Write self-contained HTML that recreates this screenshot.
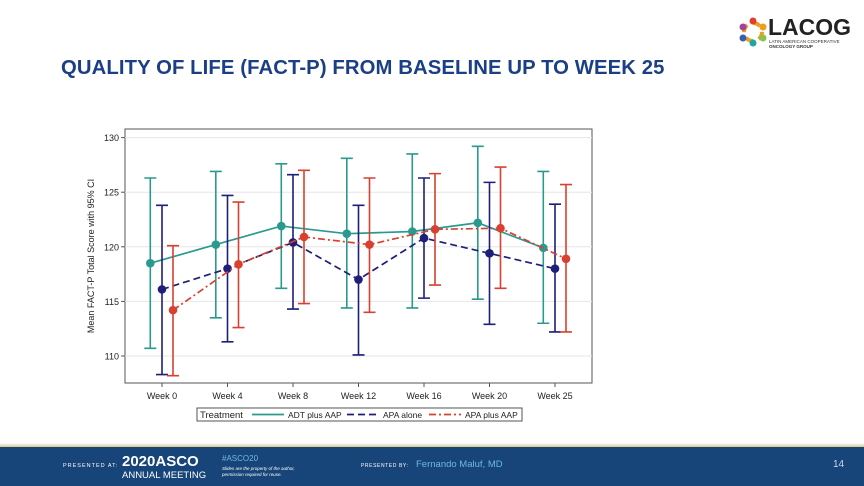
<!DOCTYPE html>
<html><head><meta charset="utf-8"><style>
body{margin:0;width:864px;height:486px;overflow:hidden;background:#fff;font-family:"Liberation Sans",sans-serif;position:relative}
.title{position:absolute;left:61px;top:57px;font-size:20.3px;font-weight:bold;color:#1b3f86;letter-spacing:0.1px}
.footer{position:absolute;left:0;top:447px;width:864px;height:39px;background:#17457a;color:#fff}
.gold{position:absolute;left:0;top:443px;width:864px;height:4px;background:linear-gradient(#fff,#d8c98a)}
</style></head><body>
<div class="title">QUALITY OF LIFE (FACT-P) FROM BASELINE UP TO WEEK 25</div>
<div style="position:absolute;left:738px;top:14px;width:120px;height:36px">
<svg width="30" height="30" style="position:absolute;left:0;top:3px"><g fill="none" stroke-width="4"><circle cx="15" cy="15" r="9" stroke="#e9a21f" stroke-dasharray="8 6"/></g><circle cx="15" cy="4" r="3.5" fill="#e53d2f"/><circle cx="25" cy="10" r="3.5" fill="#f29b1e"/><circle cx="25" cy="21" r="3.5" fill="#8bc34a"/><circle cx="15" cy="26" r="3.5" fill="#1ea7a0"/><circle cx="5" cy="21" r="3.5" fill="#3b5db0"/><circle cx="5" cy="10" r="3.5" fill="#a43f9b"/></svg>
<div style="position:absolute;left:30px;top:0;font-size:23px;font-weight:bold;color:#222">LACOG</div>
<div style="position:absolute;left:31px;top:25px;font-size:4.5px;color:#333;line-height:5px">LATIN AMERICAN COOPERATIVE<br><b>ONCOLOGY GROUP</b></div>
</div>
<svg id="chart" width="864" height="486" style="position:absolute;left:0;top:0"></svg>
<div class="gold"></div>
<div class="footer">
<div style="position:absolute;left:63px;top:16px;font-size:5.5px;letter-spacing:1px">PRESENTED AT:</div>
<div style="position:absolute;left:122px;top:6px;font-size:15px;font-weight:bold">2020ASCO</div>
<div style="position:absolute;left:122px;top:23px;font-size:9.5px">ANNUAL MEETING</div>
<div style="position:absolute;left:222px;top:7px;font-size:8px;color:#6fb8e6">#ASCO20</div>
<div style="position:absolute;left:222px;top:19px;font-size:4.5px;font-style:italic;line-height:6px">Slides are the property of the author,<br>permission required for reuse.</div>
<div style="position:absolute;left:361px;top:16px;font-size:5px;letter-spacing:0.6px">PRESENTED BY:</div>
<div style="position:absolute;left:416px;top:12px;font-size:9.5px;color:#6fb8e6">Fernando Maluf, MD</div>
<div style="position:absolute;left:833px;top:12px;font-size:10px;color:#cfd8e6">14</div>
</div>
<script>
const weeks=["Week 0","Week 4","Week 8","Week 12","Week 16","Week 20","Week 25"];
const yTicks=[110,115,120,125,130];
const adtMean=[118.5,120.2,121.9,121.2,121.4,122.2,119.9];
const adtLow=[110.7,113.5,116.2,114.4,114.4,115.2,113.0];
const adtHigh=[126.3,126.9,127.6,128.1,128.5,129.2,126.9];
const apaMean=[116.1,118.0,120.4,117.0,120.8,119.4,118.0];
const apaLow=[108.3,111.3,114.3,110.1,115.3,112.9,112.2];
const apaHigh=[123.8,124.7,126.6,123.8,126.3,125.9,123.9];
const aapMean=[114.2,118.4,120.9,120.2,121.6,121.7,118.9];
const aapLow=[108.2,112.6,114.8,114.0,116.5,116.2,112.2];
const aapHigh=[120.1,124.1,127.0,126.3,126.7,127.3,125.7];
const svg=document.getElementById('chart');const NS="http://www.w3.org/2000/svg";
function el(t,a,p){const e=document.createElementNS(NS,t);for(const k in a)e.setAttribute(k,a[k]);(p||svg).appendChild(e);return e;}
const L=125,R=592,T=129,B=383;
const y=v=>356-(v-110)*10.92;
const x=i=>162+i*65.5;
const bg=el('rect',{x:L,y:T,width:R-L,height:B-T,fill:'#fff',stroke:'#555','stroke-width':1});


yTicks.forEach(v=>{const g=el('line',{x1:L,x2:R,y1:y(v),y2:y(v),stroke:'#e6e6e6','stroke-width':1});


el('line',{x1:L-4,x2:L,y1:y(v),y2:y(v),stroke:'#555'});
const t=el('text',{x:L-6,y:y(v)+3.5,'text-anchor':'end','font-size':9,fill:'#222'});t.textContent=v;

});
weeks.forEach((w,i)=>{el('line',{x1:x(i),x2:x(i),y1:B,y2:B+4,stroke:'#555'});
const t=el('text',{x:x(i),y:B+16,'text-anchor':'middle','font-size':9,fill:'#222'});t.textContent=w;

});
const yt=el('text',{transform:'translate(94,256) rotate(-90)','text-anchor':'middle','font-size':9,fill:'#222'});yt.textContent='Mean FACT-P Total Score with 95% CI';


const series=[
{name:'adt',m:adtMean,lo:adtLow,hi:adtHigh,c:'#2a9a8f',off:-11.7,dash:''},
{name:'apa',m:apaMean,lo:apaLow,hi:apaHigh,c:'#1d1f78',off:0,dash:'7 4'},
{name:'aap',m:aapMean,lo:aapLow,hi:aapHigh,c:'#d9402f',off:11,dash:'7 3 2 3'}];
series.forEach(s=>{
s.m.forEach((v,i)=>{const cx=x(i)+s.off;
const g=el('path',{d:`M${cx-6},${y(s.hi[i])}H${cx+6}M${cx},${y(s.hi[i])}V${y(s.lo[i])}M${cx-6},${y(s.lo[i])}H${cx+6}`,stroke:s.c,'stroke-width':1.6,fill:'none'});

});
const ln=el('polyline',{points:s.m.map((v,i)=>`${x(i)+s.off},${y(v)}`).join(' '),fill:'none',stroke:s.c,'stroke-width':1.7,'stroke-dasharray':s.dash});


s.m.forEach((v,i)=>{const c=el('circle',{cx:x(i)+s.off,cy:y(v),r:4.3,fill:s.c});

});
});
const lg=el('rect',{x:197,y:408,width:325,height:13,fill:'#fff',stroke:'#555'});


const lt=el('text',{x:200,y:418,'font-size':9.5,fill:'#222'});lt.textContent='Treatment';
const items=[['ADT plus AAP',252,'#2a9a8f',''],['APA alone',347,'#1d1f78','7 4'],['APA plus AAP',429,'#d9402f','7 3 2 3']];
items.forEach(it=>{el('line',{x1:it[1],x2:it[1]+32,y1:414.5,y2:414.5,stroke:it[2],'stroke-width':1.7,'stroke-dasharray':it[3]});
const t=el('text',{x:it[1]+36,y:418,'font-size':8.5,fill:'#222'});t.textContent=it[0];

});
</script>
</body></html>
